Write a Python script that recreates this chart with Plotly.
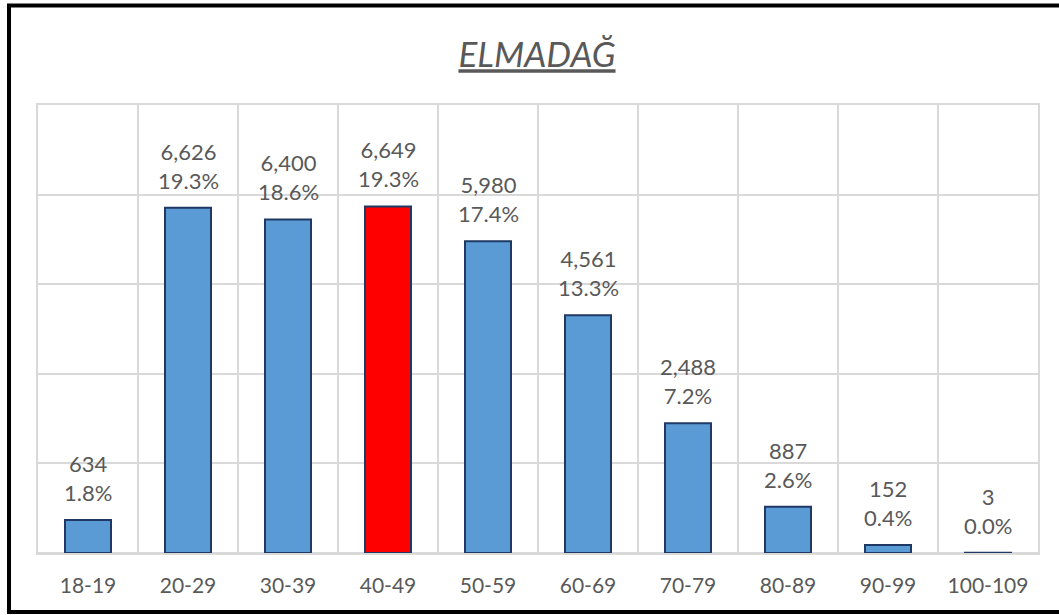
import plotly.graph_objects as go

categories = ["18-19", "20-29", "30-39", "40-49", "50-59", "60-69", "70-79", "80-89", "90-99", "100-109"]
counts = [634, 6626, 6400, 6649, 5980, 4561, 2488, 887, 152, 3]
highlight = "40-49"
title_text = "ELMADAĞ"

total = sum(counts)
pcts = [c / total * 100 for c in counts]

BLUE = "#5B9BD5"
RED = "#FF0000"
EDGE = "#1F3864"
TXT = "#595959"
GRID = "#D9D9D9"
FONT = "Lato"

colors = [RED if c == highlight else BLUE for c in categories]

fig = go.Figure()
fig.add_trace(go.Bar(
    x=categories, y=pcts, width=0.46,
    marker=dict(color=colors, line=dict(color=EDGE, width=2)),
    hoverinfo="skip",
))

for cat, c, p in zip(categories, counts, pcts):
    fig.add_annotation(
        x=cat, y=p, xref="x", yref="y",
        text=f"{c:,}<br>{p:.1f}%",
        showarrow=False, yanchor="bottom", yshift=12,
        font=dict(family=FONT, size=22, color=TXT),
    )

fig.update_layout(
    width=1059, height=615,
    margin=dict(l=38, r=21, t=105, b=62),
    paper_bgcolor="white", plot_bgcolor="white",
    showlegend=False,
    title=dict(
        text=title_text, x=537 / 1059, xanchor="center",
        y=1 - 55 / 615, yanchor="middle",
        font=dict(family=FONT, size=35, color=TXT, style="italic", lineposition="under"),
    ),
    xaxis=dict(
        type="category", tickson="boundaries", showgrid=True, gridcolor=GRID, gridwidth=2,
        ticks="", showline=True, linecolor=GRID, linewidth=2, mirror=True,
        tickfont=dict(family=FONT, size=21, color=TXT), ticklabelstandoff=13,
        range=[-0.5, len(categories) - 0.5],
    ),
    yaxis=dict(
        range=[0, 25], dtick=5, showgrid=True, gridcolor=GRID, gridwidth=2,
        showticklabels=False, ticks="", zeroline=True, zerolinecolor=GRID, zerolinewidth=2,
        showline=True, linecolor=GRID, linewidth=2, mirror=True,
    ),
    shapes=[dict(
        type="rect", xref="paper", yref="paper",
        x0=(9 - 38) / 1000, x1=(1070 - 38) / 1000,
        y0=(553 - 612) / 448, y1=(553 - 5.5) / 448,
        line=dict(color="black", width=4), fillcolor="rgba(0,0,0,0)", layer="above",
    )],
)

fig.write_html(
    "out.html",
    config={"displayModeBar": False},
    post_script="document.body.style.margin='0';document.body.style.overflow='hidden';",
)
